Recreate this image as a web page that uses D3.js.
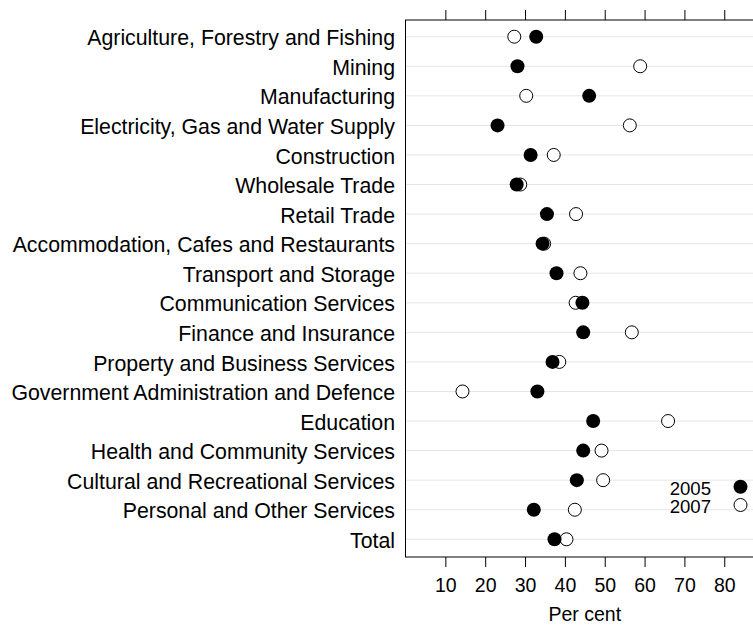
<!DOCTYPE html>
<html><head><meta charset="utf-8">
<script src="https://cdn.jsdelivr.net/npm/d3@7"></script>
<style>body{margin:0;background:#fff}svg{display:block}text{font-family:"Liberation Sans",Arial,sans-serif}</style>
</head><body>
<svg id="c" width="753" height="626"></svg>
<script>
const categories = ["Agriculture, Forestry and Fishing","Mining","Manufacturing","Electricity, Gas and Water Supply","Construction","Wholesale Trade","Retail Trade","Accommodation, Cafes and Restaurants","Transport and Storage","Communication Services","Finance and Insurance","Property and Business Services","Government Administration and Defence","Education","Health and Community Services","Cultural and Recreational Services","Personal and Other Services","Total"];
const values2005 = [32.8,28.1,46.1,23.1,31.4,27.9,35.5,34.4,37.9,44.4,44.6,36.9,33.1,47.1,44.6,43.0,32.2,37.4];
const values2007 = [27.3,58.9,30.3,56.3,37.2,28.8,42.8,34.8,43.9,42.7,56.8,38.6,14.3,65.9,49.2,49.6,42.5,40.4];
const xTicks = [10,20,30,40,50,60,70,80];
const seriesNames = ["2005","2007"];

(function () {
const svg = d3.select("#c");
const L = 405.5, T = 20, B = 557;
const x = d3.scaleLinear().domain([0, 90]).range([L, 764.1]);
const R = x(90);
const y = d3.scalePoint().domain(categories).range([36.7, 539.3]);

svg.append("g").selectAll("line").data(categories).join("line")
  .attr("x1", L).attr("x2", R).attr("y1", d => y(d)).attr("y2", d => y(d))
  .attr("stroke", "#e6e6e6").attr("stroke-width", 1);

svg.append("rect").attr("x", L).attr("y", T).attr("width", R - L).attr("height", B - T)
  .attr("fill", "none").attr("stroke", "#000").attr("stroke-width", 1);

const bot = svg.append("g").attr("transform", `translate(0,${B})`)
  .call(d3.axisBottom(x).tickValues(xTicks).tickSize(10).tickFormat(d3.format("d")));
bot.select(".domain").remove();
bot.selectAll("text").attr("y", 35).attr("dy", null).attr("font-size", 19.5).attr("fill", "#000").attr("font-family", "Liberation Sans, Arial, sans-serif");
const topAx = svg.append("g").attr("transform", `translate(0,${T})`)
  .call(d3.axisTop(x).tickValues(xTicks).tickSize(10).tickFormat(""));
topAx.select(".domain").remove();

svg.append("g").selectAll("text").data(categories).join("text")
  .attr("x", 395).attr("y", d => y(d) + 8.6)
  .attr("text-anchor", "end").attr("font-size", 21.3).attr("fill", "#000").text(d => d);

svg.append("g").selectAll("circle").data(categories).join("circle")
  .attr("cx", (d, i) => x(values2007[i])).attr("cy", d => y(d)).attr("r", 6.5)
  .attr("fill", "#fff").attr("stroke", "#000").attr("stroke-width", 1);
svg.append("g").selectAll("circle").data(categories).join("circle")
  .attr("cx", (d, i) => x(values2005[i])).attr("cy", d => y(d)).attr("r", 7)
  .attr("fill", "#000");

const lg = svg.append("g");
lg.append("text").attr("x", 711).attr("y", 494.5).attr("text-anchor", "end").attr("font-size", 18.6).text(seriesNames[0]);
lg.append("text").attr("x", 711).attr("y", 513).attr("text-anchor", "end").attr("font-size", 18.6).text(seriesNames[1]);
lg.append("circle").attr("cx", 740.5).attr("cy", 486.7).attr("r", 7).attr("fill", "#000");
lg.append("circle").attr("cx", 740.5).attr("cy", 505).attr("r", 6.5).attr("fill", "#fff").attr("stroke", "#000");

svg.append("text").attr("x", x(45)).attr("y", 621).attr("text-anchor", "middle").attr("font-size", 19.5).text("Per cent");
})();
</script>
</body></html>
